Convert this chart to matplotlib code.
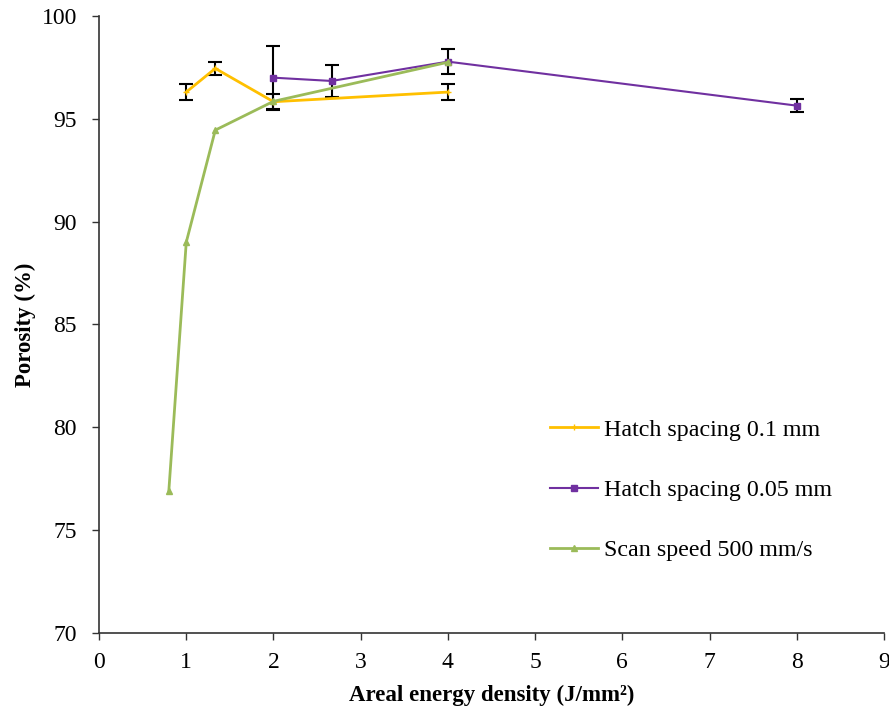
import matplotlib
matplotlib.use("Agg")
import matplotlib.pyplot as plt
from matplotlib.lines import Line2D

plt.rcParams['font.family'] = ['Liberation Serif', 'DejaVu Serif']

# Data
x_h01 = [1.0, 1.333, 2.0, 4.0]
y_h01 = [96.3, 97.45, 95.83, 96.3]
e_h01 = [0.37, 0.31, 0.37, 0.37]

x_h005 = [2.0, 2.667, 4.0, 8.0]
y_h005 = [97.0, 96.84, 97.78, 95.64]
e_h005 = [1.56, 0.77, 0.6, 0.3]

x_ss = [0.8, 1.0, 1.333, 2.0, 4.0]
y_ss = [76.9, 89.0, 94.45, 95.85, 97.75]

labels = ["Hatch spacing 0.1 mm", "Hatch spacing 0.05 mm", "Scan speed 500 mm/s"]

fig = plt.figure(figsize=(8.89, 7.13), dpi=100)
ax = fig.add_axes([0.1114, 0.1122, 0.883, 0.8654])

c_y = "#FFC000"
c_p = "#7030A0"
c_g = "#9BBB59"

ax.errorbar(x_h01, y_h01, yerr=e_h01, color=c_y, lw=2, marker='+', ms=5,
            ecolor='black', elinewidth=1.5, capsize=5, capthick=1.5, zorder=3)
ax.errorbar(x_h005, y_h005, yerr=e_h005, color=c_p, lw=1.5, marker='s', ms=5,
            ecolor='black', elinewidth=1.5, capsize=5, capthick=1.5, zorder=3)
ax.plot(x_ss, y_ss, color=c_g, lw=2, marker='^', ms=5, zorder=4)

ax.set_xlim(0, 9)
ax.set_ylim(70, 100)
ax.set_xticks(range(0, 10))
ax.set_yticks(range(70, 101, 5))
for s in ['top', 'right']:
    ax.spines[s].set_visible(False)
for s in ['left', 'bottom']:
    ax.spines[s].set_color('#333333')
    ax.spines[s].set_linewidth(1.2)
ax.tick_params(axis='both', direction='out', length=5, width=1.0, color='#333333',
               labelsize=17)
ax.tick_params(axis='y', pad=11)
ax.tick_params(axis='x', pad=9)
ax.set_xlabel("Areal energy density (J/mm²)", fontsize=16.5, fontweight='bold', labelpad=8)
ax.set_ylabel("Porosity (%)", fontsize=16.5, fontweight='bold', labelpad=4)

hs = [Line2D([], [], color=c_y, lw=2, marker='+', ms=4),
      Line2D([], [], color=c_p, lw=1.5, marker='s', ms=4),
      Line2D([], [], color=c_g, lw=2, marker='^', ms=4)]
fig.legend(hs, labels, loc='upper left', bbox_to_anchor=(550/889, 1 - 419/713),
           frameon=False, fontsize=17.3, labelspacing=1.6, handlelength=2.0,
           handletextpad=0.25, borderpad=0, borderaxespad=0)

fig.savefig("out.png", dpi=100)
